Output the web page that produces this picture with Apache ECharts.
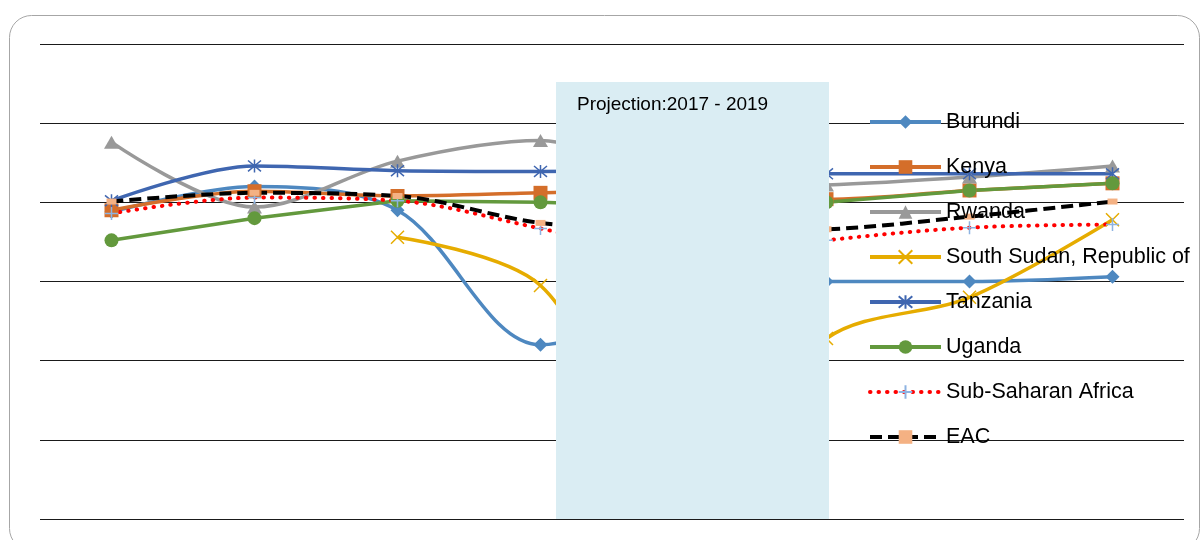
<!DOCTYPE html>
<html>
<head>
<meta charset="utf-8">
<script src="https://cdn.jsdelivr.net/npm/echarts@6/dist/echarts.min.js"></script>
<style>
  html, body { margin: 0; padding: 0; background: #fff; }
  #chart { width: 1200px; height: 540px; }
</style>
</head>
<body>
<div id="chart"></div>
<script>
// years on the x axis (2016 sits under the projection box)
const years = ['2012', '2013', '2014', '2015', '2016', '2017', '2018', '2019']

// growth values
const burundi = [4.4, 6.0, 4.5, -4.0, -1.0, 0.0, 0.0, 0.3]
const kenya = [4.5, 5.7, 5.4, 5.6, 5.8, 5.2, 5.75, 6.2]
const rwanda = [8.8, 4.7, 7.6, 8.9, 6.0, 6.1, 6.6, 7.3]
const southSudan = ['-', '-', 2.8, -0.25, -13.8, -3.6, -1.0, 3.9]
const tanzania = [5.1, 7.3, 7.0, 6.95, 7.0, 6.8, 6.8, 6.8]
const uganda = [2.6, 4.0, 5.1, 5.0, 4.7, 5.0, 5.75, 6.2]
const subSaharan = [4.3, 5.3, 5.1, 3.35, 1.4, 2.6, 3.4, 3.6]
const eac = [5.05, 5.6, 5.4, 3.7, 3.2, 3.3, 4.1, 5.05]

// y axis range (no labels are shown)
const yMin = -15
const yMax = 15
const yStep = 5

const projectionText = 'Projection:2017 - 2019'

const symX = 'path://M0,0L10,10M10,0L0,10'
const symStar = 'path://M0,0L10,10M10,0L0,10M5,-1L5,11'
const symPlus = 'path://M5,0L5,10M0,5L10,5'

function makeLine(name, data, color, opts) {
  opts = opts || {}
  return {
    name: name,
    type: 'line',
    data: data,
    smooth: opts.smooth === false ? false : 0.33,
    symbol: opts.symbol,
    symbolSize: opts.size,
    showSymbol: true,
    lineStyle: {
      color: opts.lineColor || color,
      width: opts.width || 3.5,
      type: opts.dash || 'solid',
      cap: opts.cap || 'butt'
    },
    itemStyle: {
      color: color,
      borderColor: opts.stroke ? color : 'transparent',
      borderWidth: opts.stroke ? 1.5 : 0
    },
    emphasis: { disabled: true }
  }
}

const chart = echarts.init(document.getElementById('chart'))

chart.setOption({
  animation: false,
  grid: {
    left: 40,
    right: 16,
    top: 44,
    bottom: 21
  },
  legend: {
    orient: 'vertical',
    left: 868,
    top: 110,
    padding: 0,
    itemWidth: 71,
    itemHeight: 17,
    itemGap: 21,
    lineStyle: { width: 4 },
    textStyle: {
      fontFamily: 'Liberation Sans',
      fontSize: 21.5,
      lineHeight: 24,
      color: '#000'
    },
    data: ['Burundi', 'Kenya', 'Rwanda', 'South Sudan, Republic of', 'Tanzania', 'Uganda', 'Sub-Saharan Africa', 'EAC']
  },
  xAxis: {
    type: 'category',
    data: years,
    boundaryGap: true,
    axisLine: { show: false },
    axisTick: { show: false },
    axisLabel: { show: false }
  },
  yAxis: {
    type: 'value',
    min: yMin,
    max: yMax,
    interval: yStep,
    axisLine: { show: false },
    axisTick: { show: false },
    axisLabel: { show: false },
    splitLine: {
      lineStyle: { color: '#1a1a1a', width: 1 }
    }
  },
  graphic: [
    {
      type: 'rect',
      z: 0,
      shape: { x: 9.5, y: 15.5, width: 1190, height: 535, r: 22 },
      style: { fill: 'none', stroke: '#a6a6a6', lineWidth: 1 }
    },
    {
      type: 'rect',
      z: 10,
      shape: { x: 556, y: 82, width: 273, height: 437 },
      style: { fill: '#daedf3' }
    },
    {
      type: 'text',
      z: 11,
      left: 577,
      top: 95,
      style: {
        text: projectionText,
        fontFamily: 'Liberation Sans',
        fontSize: 19,
        fill: '#000'
      }
    }
  ],
  series: [
    makeLine('Burundi', burundi, '#4e88c0', { symbol: 'diamond', size: 14 }),
    makeLine('Kenya', kenya, '#d46e2a', { symbol: 'rect', size: 14 }),
    makeLine('Rwanda', rwanda, '#999999', { symbol: 'triangle', size: [15, 13] }),
    makeLine('South Sudan, Republic of', southSudan, '#e6ac00', { symbol: symX, size: 13, stroke: true }),
    makeLine('Tanzania', tanzania, '#3f66b0', { symbol: symStar, size: 13, stroke: true }),
    makeLine('Uganda', uganda, '#63993d', { symbol: 'circle', size: 14, smooth: false }),
    makeLine('Sub-Saharan Africa', subSaharan, '#8db3e2', {
      symbol: symPlus, size: 13, stroke: true,
      lineColor: '#ff0000', dash: [0.5, 8], cap: 'round', width: 4
    }),
    makeLine('EAC', eac, '#f4b183', {
      symbol: 'rect', size: [10, 6],
      lineColor: '#000000', dash: [12, 6], width: 4
    })
  ]
})
</script>
</body>
</html>
